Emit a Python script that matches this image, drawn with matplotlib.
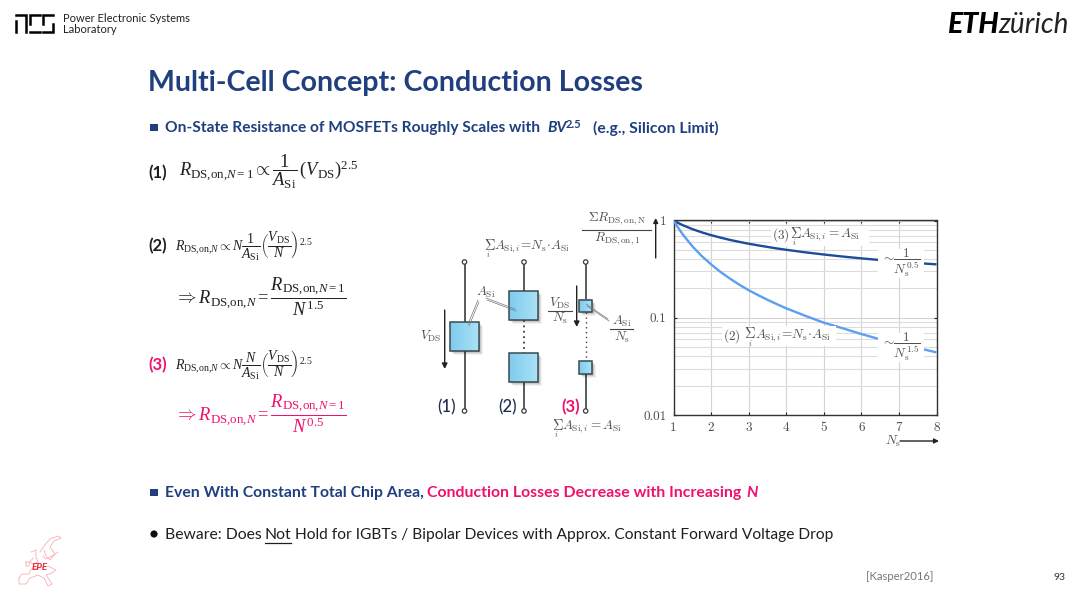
import numpy as np
import matplotlib
matplotlib.use("Agg")
import matplotlib.pyplot as plt
from matplotlib.patches import Rectangle, Circle

plt.rcParams['font.family'] = ['Lato', 'DejaVu Sans']
plt.rcParams['mathtext.fontset'] = 'custom'
plt.rcParams['mathtext.rm'] = 'Liberation Serif'
plt.rcParams['mathtext.it'] = 'Liberation Serif:italic'
plt.rcParams['mathtext.bf'] = 'Liberation Serif:bold'
plt.rcParams['mathtext.fallback'] = 'cm'

# ---- data ----
cells = [1, 1.1, 1.25, 1.5, 1.75, 2, 2.25, 2.5, 2.75, 3, 3.25, 3.5, 3.75, 4, 4.5, 5, 5.5, 6, 6.5, 7, 7.5, 8]
area_constant = [1, .953, .894, .816, .756, .707, .667, .632, .603, .577, .555, .535, .516, .5, .471, .447, .426, .408, .392, .378, .365, .354]
area_scaled = [1, .867, .716, .544, .432, .354, .296, .253, .219, .192, .171, .153, .138, .125, .105, .089, .078, .068, .060, .054, .049, .044]
x_ticks = [1, 2, 3, 4, 5, 6, 7, 8]
y_ticks = [0.01, 0.1, 1]
y_tick_labels = ['0.01', '0.1', '1']
y_minor = [m * d for d in (0.01, 0.1) for m in range(2, 10)]

NAVY = '#1f3f7f'
PINK = '#f0106e'
DARK = '#1e1e1e'
GREY = '#4d4d4d'

fig = plt.figure(figsize=(10.8, 5.93), dpi=100, facecolor='white')

# ---- log chart ----
L, R, T, B = 673.5, 936.5, 220.5, 415
ax = fig.add_axes([L / 1080, 1 - B / 593, (R - L) / 1080, (B - T) / 593], zorder=3)
ax.set_yscale('log')
ax.set_xlim(1, 8)
ax.set_ylim(0.01, 1)
ax.set_xticks(x_ticks)
ax.set_xticklabels([str(t) for t in x_ticks], family='cmr10', fontsize=9.5, color=GREY)
ax.set_yticks(y_ticks)
ax.set_yticklabels(y_tick_labels, family='cmr10', fontsize=9.5, color=GREY)
ax.set_yticks(y_minor, minor=True)
ax.set_yticklabels([], minor=True)
ax.grid(True, which='major', color='#d4d4d4', lw=0.8)
ax.grid(True, which='minor', axis='y', color='#dcdcdc', lw=0.8)
ax.tick_params(which='major', direction='in', length=2.5, width=0.8, color='#222222', top=True, right=True, pad=5)
ax.tick_params(which='minor', length=0)
for s in ax.spines.values():
    s.set_color('#333333')
    s.set_linewidth(1.0)
ax.set_axisbelow(True)
ax.plot(cells, area_constant, color='#1d4c99', lw=1.7, zorder=3, solid_capstyle='butt')
ax.plot(cells, area_scaled, color='#5c9ff0', lw=1.7, zorder=3, solid_capstyle='butt')

# ---- overlay in pixel coordinates ----
ov = fig.add_axes([0, 0, 1, 1], zorder=5, facecolor='none')
ov.set_xlim(0, 1080)
ov.set_ylim(593, 0)
ov.axis('off')

def T_(x, y, s, size=10, color=DARK, weight='normal', ha='left', va='center', style='normal', cm=False, z=8):
    kw = {}
    if cm:
        kw['math_fontfamily'] = 'cm'
    return ov.text(x, y, s, fontsize=size, color=color, fontweight=weight, ha=ha, va=va,
                   fontstyle=style, zorder=z, **kw)

def W_(x0, x1, y0, y1):
    ov.add_patch(Rectangle((x0, y0), x1 - x0, y1 - y0, fc='white', ec='none', zorder=6))

CT = '#505050'
def sum_label(x, y, rest, size=9.5):
    T_(x - 0.5, y - 2, r'$\mathrm{\Sigma}$', size + 1, CT, cm=True)
    T_(x + 2.5, y + 7, r'$i$', size - 3.5, CT, cm=True)
    T_(x + 10, y, rest, size, CT, cm=True)

# chart labels
W_(771, 869, 226, 246)
T_(772, 235, r'$\mathrm{(3)}$', 9.5, CT, cm=True)
sum_label(790, 235, r'$A_{\mathrm{Si},i}=A_{\mathrm{Si}}$')
W_(722, 836, 326, 346)
T_(723, 336, r'$\mathrm{(2)}$', 9.5, CT, cm=True)
sum_label(745, 336, r'$A_{\mathrm{Si},i}\!=\!N_{\mathrm{s}}\!\cdot\! A_{\mathrm{Si}}$')
W_(878, 924, 249, 278)
T_(881, 263, r'$\sim\!\dfrac{1}{N_{\mathrm{s}}^{0.5}}$', 9.5, CT, cm=True)
W_(878, 924, 333, 362)
T_(881, 347, r'$\sim\!\dfrac{1}{N_{\mathrm{s}}^{1.5}}$', 9.5, CT, cm=True)
T_(885, 441, r'$N_{\mathrm{s}}$', 9.5, CT, cm=True)
ov.annotate('', xy=(939, 441), xytext=(900, 441), arrowprops=dict(arrowstyle='-|>', color='#222222', lw=1, mutation_scale=7, shrinkA=0, shrinkB=0))
T_(617, 219, r'$\Sigma R_{\mathrm{DS,on,N}}$', 9.5, CT, ha='center', cm=True)
ov.plot([582, 651], [230, 230], color='#444444', lw=0.8)
T_(617, 239, r'$R_{\mathrm{DS,on,1}}$', 9.5, CT, ha='center', cm=True)
ov.annotate('', xy=(655.7, 218), xytext=(655.7, 258), arrowprops=dict(arrowstyle='-|>', color='#222222', lw=1, mutation_scale=7, shrinkA=0, shrinkB=0))

# header
for seg in ([(16, 21), (16, 32)], [(16, 14.5), (26, 14.5), (26, 32)],
            [(39.5, 14.5), (29.5, 14.5), (29.5, 24)], [(29.5, 32), (39.5, 32)],
            [(42.5, 24), (42.5, 14.5), (52.5, 14.5)], [(52.5, 24), (52.5, 32), (42.5, 32)]):
    xs, ys = zip(*seg)
    ov.plot(xs, ys, color='black', lw=1.8, solid_joinstyle='miter')
T_(63, 18, 'Power Electronic Systems', 8.05, '#222222')
T_(63, 29.5, 'Laboratory', 8.05, '#222222')
T_(947, 25, 'ETH', 20.5, 'black', weight='black', style='italic')
T_(998, 25, 'zürich', 20.2, '#222222', style='italic')

# title and bullet lines
T_(148.5, 83, 'Multi-Cell Concept: Conduction Losses', 20.6, NAVY, weight='bold')
ov.add_patch(Rectangle((150, 123.5), 8, 7, fc=NAVY, ec='none'))
T_(165, 128, 'On-State Resistance of MOSFETs Roughly Scales with', 11.2, NAVY, weight='bold')
T_(547, 128, 'BV', 11.2, NAVY, weight='bold', style='italic')
T_(566, 124.5, '2.5', 8, NAVY, weight='bold')
T_(593, 128, '(e.g., Silicon Limit)', 11.3, NAVY, weight='bold')
ov.add_patch(Rectangle((150, 489), 8, 7, fc=NAVY, ec='none'))
T_(165, 493, 'Even With Constant Total Chip Area,', 11.35, NAVY, weight='bold')
T_(427, 493, 'Conduction Losses Decrease with Increasing', 11.45, PINK, weight='bold')
T_(746, 493, 'N', 11.4, PINK, weight='bold', style='italic')
ov.add_patch(Circle((154, 534), 3.6, fc='#111111', ec='none'))
T_(165, 535, 'Beware: Does', 11.3, DARK)
T_(265, 535, 'Not', 11.3, DARK)
ov.plot([265, 291], [542.5, 542.5], color=DARK, lw=0.9)
T_(295, 535, 'Hold for IGBTs / Bipolar Devices with Approx. Constant Forward Voltage Drop', 11.2, DARK)
T_(866, 577, '[Kasper2016]', 8.1, '#777777')
T_(1066, 577, '93', 7.5, '#333333', ha='right')

# equations
RN1 = r'R_{\mathrm{DS{,}on{,}}N\mathrm{=1}}'
RN = r'R_{\mathrm{DS{,}on{,}}N}'
T_(148, 173, '(1)', 12, DARK, weight='bold')
T_(179, 172, rf'${RN1}\propto\dfrac{{1}}{{A_{{\mathrm{{Si}}}}}}\,(V_{{\mathrm{{DS}}}})^{{2.5}}$', 13.3, '#222222')
T_(148, 246, '(2)', 12, DARK, weight='bold')
T_(175, 246, rf'${RN}\propto N\dfrac{{1}}{{A_{{\mathrm{{Si}}}}}}\left(\dfrac{{V_{{\mathrm{{DS}}}}}}{{N}}\right)^{{2.5}}$', 10, '#222222')
T_(175, 297, rf'$\Rightarrow {RN}=\dfrac{{{RN1}}}{{N^{{1.5}}}}$', 13.3, '#222222')
T_(148, 365, '(3)', 12, PINK, weight='bold')
T_(175, 365, rf'${RN}\propto N\dfrac{{N}}{{A_{{\mathrm{{Si}}}}}}\left(\dfrac{{V_{{\mathrm{{DS}}}}}}{{N}}\right)^{{2.5}}$', 10, '#222222')
T_(175, 414, rf'$\Rightarrow {RN}=\dfrac{{{RN1}}}{{N^{{0.5}}}}$', 13.3, PINK)

# circuit schematic
WIRE = '#3d3d3d'
def wire(x, y0, y1, ls='-', lw=1.2):
    ov.plot([x, x], [y0, y1], color=WIRE, lw=lw, ls=ls, zorder=4)

def term(x, y):
    ov.add_patch(Circle((x, y), 2.2, fc='white', ec=WIRE, lw=0.9, zorder=5))

grad = np.linspace(0, 1, 32)[None, :]
cmap = matplotlib.colors.LinearSegmentedColormap.from_list('b', ['#7fcbee', '#abe2f6'])
def box(x0, x1, y0, y1):
    for i, a in zip((4, 3, 2, 1), (.05, .08, .1, .14)):
        ov.add_patch(Rectangle((x0 + i, y0 + i), x1 - x0, y1 - y0, fc='black', alpha=a, ec='none', zorder=4.5))
    ov.imshow(grad, extent=(x0, x1, y1, y0), cmap=cmap, aspect='auto', zorder=5)
    ov.add_patch(Rectangle((x0, y0), x1 - x0, y1 - y0, fc='none', ec='#3a4a50', lw=1.1, zorder=5.5))

wire(464.5, 262, 411)
wire(524, 262, 292); wire(524, 320, 353, ls=(0, (1, 2)), lw=1.3); wire(524, 382, 411)
wire(585.7, 262, 300); wire(585.7, 312, 361, ls=(0, (1, 2.5)), lw=1.0); wire(585.7, 374, 411)
for x in (464.5, 524, 585.7):
    term(x, 262); term(x, 411)
box(450, 479, 322, 351)
box(509.3, 538.3, 291.3, 320.3)
box(509.3, 538.3, 353.3, 382)
box(579.3, 591.7, 299.7, 312)
box(579.3, 591.7, 361.3, 373.7)
ov.set_xlim(0, 1080)
ov.set_ylim(593, 0)

for (x0, y0, x1, y1) in ((478, 301, 468, 325), (486, 299, 515, 310), (586, 305, 608, 320)):
    ov.plot([x0, x1], [y0 - 1, y1 - 1], color='#777777', lw=0.5, zorder=7)
    ov.plot([x0 + 1, x1 + 1], [y0 + 1, y1 + 1], color='#777777', lw=0.5, zorder=7)

for x, y0, y1 in ((444.7, 310, 369), (576.7, 286, 327)):
    ov.annotate('', xy=(x, y1), xytext=(x, y0), arrowprops=dict(arrowstyle='-|>', color='#222222', lw=1, mutation_scale=8, shrinkA=0, shrinkB=0))

T_(486, 292, r'$A_{\mathrm{Si}}$', 9.5, CT, ha='center', cm=True)
T_(431, 336, r'$V_{\mathrm{DS}}$', 9.5, CT, ha='center', cm=True)
T_(560, 303, r'$V_{\mathrm{DS}}$', 9.5, CT, ha='center', cm=True)
ov.plot([548, 572], [310.5, 310.5], color='#444444', lw=0.8)
T_(560, 318, r'$N_{\mathrm{s}}$', 9.5, CT, ha='center', cm=True)
T_(622, 321, r'$A_{\mathrm{Si}}$', 9.5, CT, ha='center', cm=True)
ov.plot([610, 633], [329, 329], color='#444444', lw=0.8)
T_(622, 337, r'$N_{\mathrm{s}}$', 9.5, CT, ha='center', cm=True)
sum_label(484, 247, r'$A_{\mathrm{Si},i}\!=\!N_{\mathrm{s}}\!\cdot\! A_{\mathrm{Si}}$')
sum_label(552, 427, r'$A_{\mathrm{Si},i}=A_{\mathrm{Si}}$')
T_(447, 407, '(1)', 12, '#1f2f4f', ha='center', weight='medium')
T_(508, 407, '(2)', 12, '#1f2f4f', ha='center', weight='medium')
T_(571, 407, '(3)', 12, PINK, ha='center', weight='bold')

# conference emblem
emblem_parts = [
    [(40, 552), (44, 546), (50, 539), (58, 536), (61, 538), (54, 541), (50, 547), (55, 554), (50, 560), (46, 556), (44, 550)],
    [(31, 552), (36, 550), (36, 557), (38, 562), (33, 564), (30, 562), (33, 558)],
    [(26, 562), (30, 562), (29, 566), (26, 566), (26, 562)],
    [(43, 556), (46, 559), (52, 556), (58, 552)],
    [(19, 578), (22, 574), (29, 574), (31, 569), (38, 568), (48, 566), (56, 570), (52, 573), (46, 575), (52, 584), (48, 586), (44, 578), (38, 575), (30, 578), (26, 584), (19, 584), (19, 578)],
]
for part in emblem_parts:
    ex, ey = zip(*part)
    ov.plot(ex, ey, color='#f7b0b6', lw=0.6)
T_(39.5, 568, 'EPE', 7, '#f0263a', ha='center', weight='bold', style='italic')

fig.savefig('out.png', dpi=100)
